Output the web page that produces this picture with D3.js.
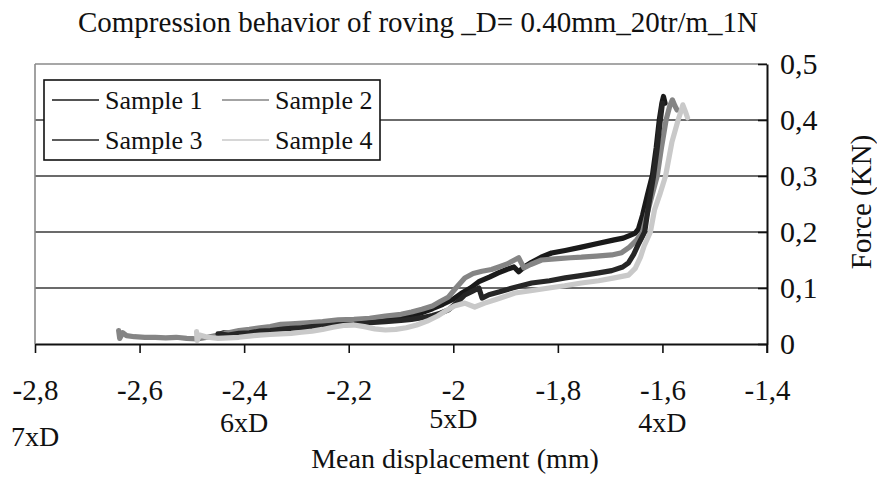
<!DOCTYPE html>
<html><head><meta charset="utf-8">
<script src="https://cdn.jsdelivr.net/npm/d3@7"></script>
<style>
html,body{margin:0;padding:0;background:#fff;}
svg text{font-family:"Liberation Serif","Times New Roman",serif;fill:#111;}
</style></head>
<body><svg id="c" width="877" height="480"></svg>
<script>
const title = "Compression behavior of roving _D= 0.40mm_20tr/m_1N";
const xLabel = "Mean displacement (mm)";
const yLabel = "Force (KN)";
const xTicks = [-2.8,-2.6,-2.4,-2.2,-2.0,-1.8,-1.6,-1.4];
const xTickLabels = ["-2,8","-2,6","-2,4","-2,2","-2","-1,8","-1,6","-1,4"];
const yTicks = [0,0.1,0.2,0.3,0.4,0.5];
const yTickLabels = ["0","0,1","0,2","0,3","0,4","0,5"];
const dLabels = ["7xD","6xD","5xD","4xD"];
const dLabelX = [-2.8,-2.4,-2.0,-1.6];
const seriesNames = ["Sample 1","Sample 2","Sample 3","Sample 4"];
const seriesColors = ["#1a1a1a","#858585","#262626","#c9c9c9"];

const sample1 = [[-2.451,0.016],[-2.44,0.02],[-2.42,0.019],[-2.40,0.023],[-2.38,0.022],[-2.36,0.027],[-2.34,0.026],[-2.32,0.03],[-2.30,0.031],[-2.28,0.03],[-2.26,0.034],[-2.24,0.035],[-2.22,0.037],[-2.20,0.038],[-2.18,0.037],[-2.16,0.041],[-2.14,0.043],[-2.12,0.044],[-2.10,0.047],[-2.08,0.051],[-2.06,0.056],[-2.04,0.063],[-2.02,0.071],[-2.00,0.08],[-1.985,0.09],[-1.967,0.1],[-1.95,0.112],[-1.93,0.12],[-1.914,0.127],[-1.898,0.133],[-1.884,0.1375],[-1.875,0.129],[-1.865,0.137],[-1.85,0.146],[-1.832,0.155],[-1.812,0.1625],[-1.786,0.167],[-1.755,0.173],[-1.726,0.179],[-1.692,0.186],[-1.675,0.189],[-1.662,0.194],[-1.652,0.198],[-1.646,0.205],[-1.638,0.23],[-1.629,0.265],[-1.619,0.302],[-1.612,0.35],[-1.606,0.4],[-1.601,0.43],[-1.598,0.442],[-1.595,0.43]];
const sample2 = [[-2.64,0.024],[-2.638,0.01],[-2.632,0.02],[-2.625,0.015],[-2.61,0.013],[-2.59,0.012],[-2.57,0.012],[-2.55,0.011],[-2.53,0.012],[-2.51,0.01],[-2.49,0.009],[-2.47,0.012],[-2.45,0.016],[-2.43,0.02],[-2.41,0.024],[-2.39,0.026],[-2.37,0.029],[-2.35,0.031],[-2.33,0.035],[-2.31,0.036],[-2.28,0.038],[-2.25,0.04],[-2.22,0.043],[-2.19,0.044],[-2.16,0.046],[-2.13,0.05],[-2.10,0.053],[-2.08,0.057],[-2.06,0.062],[-2.04,0.068],[-2.025,0.076],[-2.009,0.084],[-1.995,0.1],[-1.978,0.118],[-1.962,0.126],[-1.945,0.13],[-1.927,0.133],[-1.913,0.1375],[-1.897,0.143],[-1.883,0.15],[-1.875,0.154],[-1.865,0.136],[-1.852,0.142],[-1.831,0.15],[-1.806,0.152],[-1.776,0.154],[-1.755,0.155],[-1.726,0.157],[-1.697,0.159],[-1.678,0.163],[-1.663,0.173],[-1.65,0.185],[-1.638,0.2],[-1.63,0.23],[-1.62,0.265],[-1.61,0.3],[-1.602,0.35],[-1.593,0.4],[-1.586,0.425],[-1.581,0.436],[-1.576,0.425],[-1.572,0.418]];
const sample3 = [[-2.45,0.018],[-2.43,0.016],[-2.41,0.019],[-2.39,0.02],[-2.37,0.023],[-2.35,0.024],[-2.33,0.026],[-2.31,0.028],[-2.29,0.029],[-2.27,0.031],[-2.25,0.032],[-2.22,0.034],[-2.19,0.035],[-2.16,0.038],[-2.13,0.04],[-2.10,0.042],[-2.08,0.044],[-2.06,0.047],[-2.04,0.051],[-2.025,0.055],[-2.009,0.061],[-1.993,0.074],[-1.978,0.0875],[-1.964,0.094],[-1.951,0.1],[-1.945,0.082],[-1.932,0.088],[-1.913,0.093],[-1.887,0.1],[-1.85,0.109],[-1.816,0.113],[-1.786,0.118],[-1.756,0.122],[-1.722,0.127],[-1.697,0.131],[-1.676,0.1375],[-1.665,0.145],[-1.655,0.16],[-1.645,0.18],[-1.634,0.2],[-1.626,0.25],[-1.617,0.3],[-1.61,0.35],[-1.604,0.4],[-1.6,0.43]];
const sample4 = [[-2.491,0.022],[-2.49,0.006],[-2.485,0.016],[-2.47,0.012],[-2.45,0.01],[-2.43,0.011],[-2.41,0.012],[-2.39,0.014],[-2.37,0.016],[-2.35,0.017],[-2.33,0.018],[-2.31,0.019],[-2.29,0.021],[-2.27,0.023],[-2.25,0.026],[-2.23,0.03],[-2.21,0.033],[-2.19,0.034],[-2.17,0.031],[-2.15,0.027],[-2.13,0.025],[-2.11,0.026],[-2.09,0.029],[-2.07,0.034],[-2.05,0.041],[-2.03,0.05],[-2.013,0.06],[-1.998,0.068],[-1.978,0.073],[-1.959,0.066],[-1.94,0.073],[-1.917,0.08],[-1.882,0.091],[-1.852,0.095],[-1.817,0.1],[-1.787,0.104],[-1.755,0.109],[-1.722,0.113],[-1.692,0.118],[-1.665,0.123],[-1.652,0.135],[-1.642,0.155],[-1.635,0.175],[-1.623,0.2],[-1.615,0.24],[-1.604,0.27],[-1.594,0.3],[-1.582,0.36],[-1.57,0.4],[-1.563,0.42],[-1.561,0.427],[-1.556,0.415],[-1.552,0.404]];
const seriesData = [sample1, sample2, sample3, sample4];

const svg = d3.select("#c");
const L = 35, R = 767, T = 64, B = 344;
const x = d3.scaleLinear().domain([-2.8,-1.4]).range([L,R]);
const y = d3.scaleLinear().domain([0,0.5]).range([B,T]);

// grid lines
svg.append("g").selectAll("line").data(yTicks.filter(v=>v>0 && v<0.5)).join("line")
  .attr("x1",L).attr("x2",R).attr("y1",d=>y(d)).attr("y2",d=>y(d))
  .attr("stroke","#3a3a3a").attr("stroke-width",1.6);
svg.append("line").attr("x1",L).attr("x2",R).attr("y1",y(0.5)).attr("y2",y(0.5))
  .attr("stroke","#8a8a8a").attr("stroke-width",1.6);
svg.append("line").attr("x1",L).attr("x2",L).attr("y1",y(0.5)).attr("y2",y(0))
  .attr("stroke","#8a8a8a").attr("stroke-width",1.6);

// series
const line = d3.line().x(d=>x(d[0])).y(d=>y(d[1]));
seriesData.forEach((s,i)=>{
  svg.append("path").datum(s).attr("d",line).attr("fill","none")
    .attr("stroke",seriesColors[i]).attr("stroke-width",5.2)
    .attr("stroke-linejoin","round").attr("stroke-linecap","round");
});

// bottom axis
const xAxis = d3.axisBottom(x).tickValues(xTicks).tickSize(9).tickSizeOuter(0)
  .tickPadding(26).tickFormat((d,i)=>xTickLabels[i]);
const gx = svg.append("g").attr("transform",`translate(0,${B})`).call(xAxis);
gx.select(".domain").attr("stroke","#111").attr("stroke-width",2);
gx.selectAll(".tick line").attr("stroke","#111").attr("stroke-width",1.6);
gx.selectAll(".tick text").attr("font-size",29).attr("fill","#111")
  .attr("font-family","Liberation Serif, serif").attr("dy","0.72em");

// right axis
const yAxis = d3.axisRight(y).tickValues(yTicks).tickSizeInner(-9).tickSizeOuter(0)
  .tickPadding(13).tickFormat((d,i)=>yTickLabels[i]);
const gy = svg.append("g").attr("transform",`translate(${R},0)`).call(yAxis);
gy.select(".domain").attr("stroke","#111").attr("stroke-width",2);
gy.selectAll(".tick line").attr("stroke","#111").attr("stroke-width",1.6);
gy.selectAll(".tick text").attr("font-size",30).attr("fill","#111")
  .attr("font-family","Liberation Serif, serif");
svg.append("line").attr("x1",R).attr("x2",R).attr("y1",B).attr("y2",B+9)
  .attr("stroke","#111").attr("stroke-width",1.6);

// D labels
const dLabelY = [446, 432, 428, 432];
svg.append("g").selectAll("text").data(dLabels).join("text")
  .attr("x",(d,i)=>x(dLabelX[i])).attr("y",(d,i)=>dLabelY[i])
  .attr("text-anchor","middle").attr("font-size",28).text(d=>d);

// titles
svg.append("text").attr("x",418).attr("y",32).attr("text-anchor","middle")
  .attr("font-size",29).text(title);
svg.append("text").attr("x",455).attr("y",468).attr("text-anchor","middle")
  .attr("font-size",28).text(xLabel);
svg.append("text").attr("transform","translate(871,202) rotate(-90)")
  .attr("text-anchor","middle").attr("font-size",29).text(yLabel);

// legend
const lg = svg.append("g");
lg.append("rect").attr("x",44).attr("y",80).attr("width",336).attr("height",80)
  .attr("fill","#fff").attr("stroke","#111").attr("stroke-width",1.6);
const lgPos = [[52,100],[222,100],[52,140],[222,140]];
seriesNames.forEach((n,i)=>{
  const [lx,ly] = lgPos[i];
  lg.append("line").attr("x1",lx).attr("x2",lx+47).attr("y1",ly).attr("y2",ly)
    .attr("stroke",seriesColors[i]).attr("stroke-width",1.6);
  lg.append("text").attr("x",lx+53).attr("y",ly+9).attr("font-size",26).text(n);
});
</script></body></html>
